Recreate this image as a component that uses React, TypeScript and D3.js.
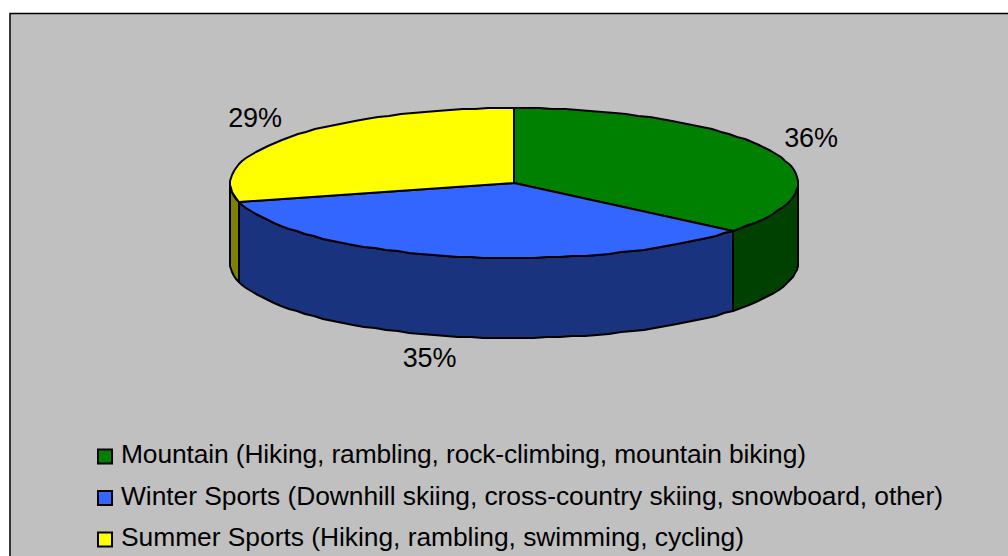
import React from "react";
import * as d3 from "d3";

const categories = ["Mountain", "Winter Sports", "Summer Sports"];
const details = [
  "(Hiking, rambling, rock-climbing, mountain biking)",
  "(Downhill skiing, cross-country skiing, snowboard, other)",
  "(Hiking, rambling, swimming, cycling)",
];
const shares = [36, 35, 29];
const topColors = ["#008000", "#3366ff", "#ffff00"];
const sideColors = ["#004000", "#1a337f", "#808000"];

const WIDTH = 1008;
const HEIGHT = 556;
const cx = 514;
const cy = 183;
const rx = 284;
const ry = 75;
const depth = 80;
const FONT = "'Liberation Sans', Arial, sans-serif";

type Pt = [number, number];

// Projects a pie angle (clockwise from 12 o'clock) onto the tilted rim,
// snapped to whole pixels so the outline steps like a low-resolution plot.
const rim = (a: number, drop = 0): Pt => [
  Math.round(cx + rx * Math.sin(a)),
  Math.round(cy - ry * Math.cos(a)) + drop,
];

const arcPoints = (a0: number, a1: number, drop = 0): Pt[] => {
  const n = Math.max(1, Math.round((a1 - a0) / 0.045));
  return d3.range(n + 1).map((i) => rim(a0 + ((a1 - a0) * i) / n, drop));
};

const line = d3.line<Pt>();
const closed = (pts: Pt[]) => (line(pts) as string) + "Z";

const arcs = d3.pie<number>().sort(null)(shares);
const RIGHT = Math.PI / 2;
const LEFT = (3 * Math.PI) / 2;

// Outer wall between two angles, limited to the half facing the viewer.
const wall = (a0: number, a1: number) => {
  const s = Math.max(a0, RIGHT);
  const e = Math.min(a1, LEFT);
  if (e <= s) return null;
  return closed([...arcPoints(s, e), ...arcPoints(s, e, depth).reverse()]);
};

const legendRows = [463, 504.5, 546];
const legendLengths = [685, 822, 623];
const labelSpots: { x: number; y: number }[] = [
  { x: 811, y: 147 },
  { x: 429.5, y: 367 },
  { x: 255, y: 127 },
];

export default function App() {
  return (
    <svg
      width={WIDTH}
      height={HEIGHT}
      viewBox={`0 0 ${WIDTH} ${HEIGHT}`}
      style={{ position: "absolute", left: 0, top: 0, display: "block" }}
    >
      <rect width={WIDTH} height={HEIGHT} fill="#ffffff" />
      <rect
        x={10}
        y={13.5}
        width={WIDTH + 20}
        height={HEIGHT + 20}
        fill="#c0c0c0"
        stroke="#000"
        strokeWidth={1.5}
      />

      {arcs.map((d, i) => {
        const p = wall(d.startAngle, d.endAngle);
        return p ? (
          <path key={`wall-${i}`} d={p} fill={sideColors[i]} stroke="#000" strokeWidth={2} strokeLinejoin="round" />
        ) : null;
      })}

      {arcs.map((d, i) => (
        <path
          key={`top-${i}`}
          d={closed([[cx, cy], ...arcPoints(d.startAngle, d.endAngle)])}
          fill={topColors[i]}
          stroke="#000"
          strokeWidth={2}
          strokeLinejoin="round"
        />
      ))}

      {shares.map((v, i) => (
        <text
          key={`label-${i}`}
          x={labelSpots[i].x}
          y={labelSpots[i].y}
          textAnchor="middle"
          fontFamily={FONT}
          fontSize={27}
          letterSpacing={-0.2}
          fill="#000"
        >
          {v}%
        </text>
      ))}

      {categories.map((c, i) => (
        <g key={c}>
          <rect
            x={98}
            y={legendRows[i] - 13.5}
            width={14}
            height={14}
            fill={topColors[i]}
            stroke="#000"
            strokeWidth={2}
          />
          <text
            x={121}
            y={legendRows[i]}
            fontFamily={FONT}
            fontSize={26.4}
            textLength={legendLengths[i]}
            lengthAdjust="spacing"
            fill="#000"
          >
            {c} {details[i]}
          </text>
        </g>
      ))}
    </svg>
  );
}
